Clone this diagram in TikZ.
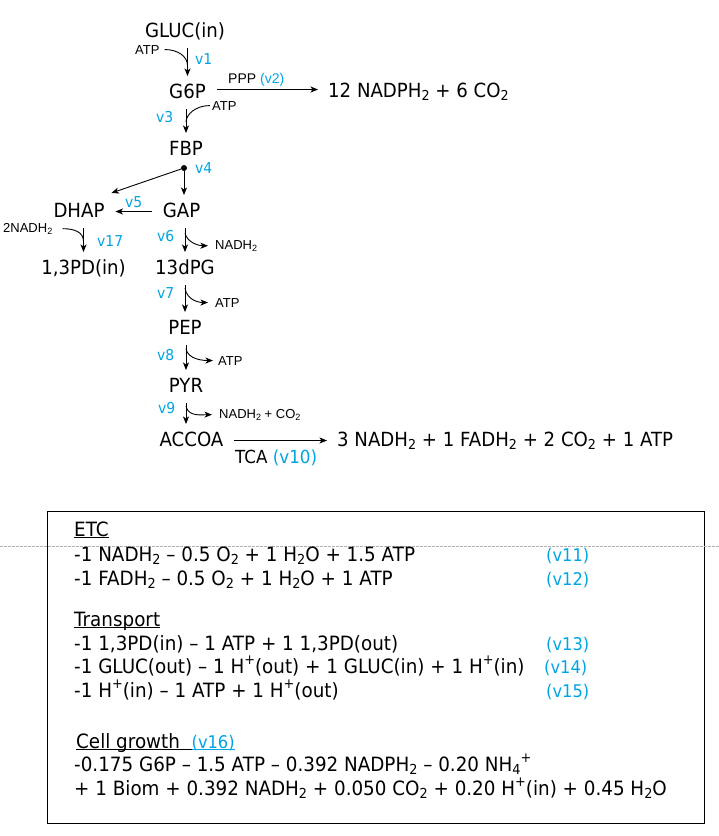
\documentclass[tikz,border=0pt]{standalone}
\usepackage{fontspec}
\setmainfont{DejaVu Sans}[FakeStretch=0.93]
\newfontfamily\smallfont{Liberation Sans}
\usepackage{graphicx}
\usetikzlibrary{arrows.meta,calc}
\definecolor{vblue}{RGB}{0,164,228}
\newcommand\sbt[1]{\raisebox{-0.35ex}{\scalebox{0.7}{#1}}}
\newcommand\spt[1]{\raisebox{0.75ex}{\scalebox{0.7}{#1}}}
\newcommand\vv[1]{\textcolor{vblue}{#1}}
\newcommand\ulin[1]{\setbox0\hbox{#1}\rlap{\rule[-2pt]{\wd0}{0.8pt}}\box0}
\begin{document}
\begin{tikzpicture}[x=1pt,y=-1pt,
 species/.style={anchor=base,inner sep=0pt,text height=15pt,text depth=4pt,outer xsep=11pt,outer ysep=7pt,font=\fontsize{19.5}{22}\selectfont},
 prod/.style={anchor=base west,inner sep=0pt,font=\fontsize{19.5}{22}\selectfont},
 small/.style={anchor=base west,inner sep=0pt,font=\smallfont\fontsize{13}{15}\selectfont},
 vlab/.style={anchor=base west,inner sep=0pt,text=vblue,font=\fontsize{15}{17}\selectfont},
 boxtxt/.style={anchor=base west,inner sep=0pt,font=\fontsize{19.7}{22}\selectfont},
 vbox/.style={anchor=base west,inner sep=0pt,text=vblue,font=\fontsize{17.5}{20}\selectfont},
 arr/.style={line width=0.9pt,-{Stealth[length=7.5pt,width=6pt,inset=2pt]}},
 ln/.style={line width=0.9pt},
]
\useasboundingbox (0,0) rectangle (719,836);
% species
\node[species] (GLUC) at (185,37) {GLUC(in)};
\node[species] (G6P) at (187.5,98) {G6P};
\node[species] (FBP) at (186,155) {FBP};
\node[species] (DHAP) at (79,217) {DHAP};
\node[species] (GAP) at (181.5,217) {GAP};
\node[species] (PDin) at (83.5,274) {1,3PD(in)};
\node[species] (dPG) at (185,274) {13dPG};
\node[species] (PEP) at (185,334) {PEP};
\node[species] (PYR) at (186,392) {PYR};
\node[species] (ACCOA) at (191.5,446) {ACCOA};
\node[prod] (NADPH) at (328,97) {12 NADPH\sbt{2} + 6 CO\sbt{2}};
\node[prod] (TCAP) at (337,446) {3 NADH\sbt{2} + 1 FADH\sbt{2} + 2 CO\sbt{2} + 1 ATP};
% small labels
\node[small] (atp1) at (135,54) {ATP};
\node[small] (atp3) at (212,110) {ATP};
\node[small,font=\smallfont\fontsize{14}{16}\selectfont] (ppp) at (228,83) {PPP \vv{(v2)}};
\node[small] (nadh17) at (3,232) {2NADH\sbt{2}};
\node[small] (nadh6) at (215,249) {NADH\sbt{2}};
\node[small] (atp7) at (215,307) {ATP};
\node[small] (atp8) at (218,365) {ATP};
\node[small] (nadh9) at (219,418) {NADH\sbt{2} + CO\sbt{2}};
\node[anchor=base west,inner sep=0pt,font=\fontsize{18}{20}\selectfont] (tca) at (235,463) {TCA \vv{(v10)}};
% v labels
\node[vlab] (v1) at (195,64) {v1};
\node[vlab] (v3) at (156,122) {v3};
\node[vlab] (v4) at (195,173) {v4};
\node[vlab] (v5) at (125,207) {v5};
\node[vlab] (v17) at (97,246) {v17};
\node[vlab] (v6) at (157,241) {v6};
\node[vlab] (v7) at (157,298) {v7};
\node[vlab] (v8) at (157,360) {v8};
\node[vlab] (v9) at (158,413) {v9};
% v1
\draw[arr] (GLUC.south -| G6P) -- (G6P.north);
\draw[ln] ([xshift=5pt]atp1.east) .. controls +(13,0) and +(0,-9) .. ($(GLUC.south -| G6P)!0.62!(G6P.north)$);
% v2
\draw[arr] ([yshift=3pt]G6P.east) -- ([yshift=3pt,xshift=-10pt]G6P.east -| NADPH.west);
% v3
\draw[arr] (G6P.south -| FBP) -- (FBP.north);
\draw[ln] ([xshift=-2pt]atp3.west) .. controls +(-14,0) and +(0,-8) .. ($(G6P.south -| FBP)!0.55!(FBP.north)$);
% v4
\node[circle,fill,inner sep=0pt,minimum size=6pt] (d4) at (184,168) {};
\draw[arr] (d4) -- (GAP.north -| d4);
\draw[arr] (d4) -- ([xshift=-4pt,yshift=2pt]DHAP.north east);
% v5
\draw[arr] (GAP.west) -- (DHAP.east);
% v17
\draw[arr] (DHAP.south -| PDin) -- (PDin.north);
\draw[ln] ([xshift=10pt]nadh17.east) .. controls +(12,0) and +(0,-9) .. ($(DHAP.south -| PDin)!0.55!(PDin.north)$);
% v6
\draw[arr] (GAP.south -| dPG) -- (dPG.north);
\draw[arr] ($(GAP.south -| dPG)!0.2!(dPG.north)$) .. controls +(2,10) and +(-9,0) .. ([xshift=-7pt]nadh6.west);
% v7
\draw[arr] (dPG.south -| PEP) -- (PEP.north);
\draw[arr] ($(dPG.south -| PEP)!0.12!(PEP.north)$) .. controls +(2,12) and +(-9,0) .. ([xshift=-7pt]atp7.west);
% v8
\draw[arr] (PEP.south -| PYR) -- (PYR.north);
\draw[arr] ($(PEP.south -| PYR)!0.15!(PYR.north)$) .. controls +(2,11) and +(-9,0) .. ([xshift=-5pt]atp8.west);
% v9
\draw[arr] (PYR.south -| PYR) -- (ACCOA.north -| PYR);
\draw[arr] ($(PYR.south -| PYR)!0.15!(ACCOA.north -| PYR)$) .. controls +(2,11) and +(-9,0) .. ([xshift=-7pt]nadh9.west);
% v10
\draw[arr] (ACCOA.east) -- ([xshift=-10pt]ACCOA.east -| TCAP.west);
% box
\node[draw,line width=0.9pt,anchor=north west,inner sep=0pt,minimum width=657pt,minimum height=312pt] (box) at (47,511) {};
\draw[gray!60,line width=0.5pt,dash pattern=on 2.5pt off 1.5pt] (0,546) -- (719,546);
\node[boxtxt] (etc) at (74,536) {\ulin{ETC}};
\node[boxtxt] (e1) at (74,561) {-1 NADH\sbt{2} – 0.5 O\sbt{2} + 1 H\sbt{2}O + 1.5 ATP};
\node[boxtxt] (e2) at (74,585) {-1 FADH\sbt{2} – 0.5 O\sbt{2} + 1 H\sbt{2}O + 1 ATP};
\node[vbox] (v11) at (546,561) {(v11)};
\node[vbox] (v12) at (546,585) {(v12)};
\node[boxtxt] (tr) at (74,626) {\ulin{Transport}};
\node[boxtxt] (t1) at (74,650) {-1 1,3PD(in) – 1 ATP + 1 1,3PD(out)};
\node[boxtxt] (t2) at (74,673) {-1 GLUC(out) – 1 H\spt{+}(out) + 1 GLUC(in) + 1 H\spt{+}(in)};
\node[boxtxt] (t3) at (74,697) {-1 H\spt{+}(in) – 1 ATP + 1 H\spt{+}(out)};
\node[vbox] (v13) at (546,650) {(v13)};
\node[vbox] (v14) at (544,673) {(v14)};
\node[vbox] (v15) at (546,697) {(v15)};
\node[boxtxt] (cg) at (76,748) {\ulin{Cell growth\ \ }\textcolor{vblue}{\fontsize{17.5}{20}\selectfont\ulin{(v16)}}};
\node[boxtxt] (c1) at (74,771) {-0.175 G6P – 1.5 ATP – 0.392 NADPH\sbt{2} – 0.20 NH\sbt{4}\spt{+}};
\node[boxtxt] (c2) at (74,795) {+ 1 Biom + 0.392 NADH\sbt{2} + 0.050 CO\sbt{2} + 0.20 H\spt{+}(in) + 0.45 H\sbt{2}O};
\end{tikzpicture}
\end{document}
